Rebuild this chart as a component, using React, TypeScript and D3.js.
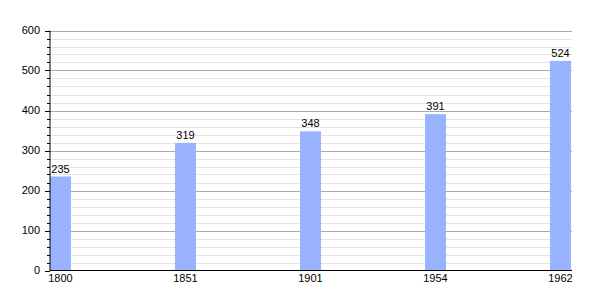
import React from "react";
import * as d3 from "d3";

const years = ["1800", "1851", "1901", "1954", "1962"];
const population = [235, 319, 348, 391, 524];
const majorTicks = [0, 100, 200, 300, 400, 500, 600];

export default function App() {
  const W = 600, H = 300;
  const left = 50, right = 572, top = 30.5, bottom = 270.5;
  const y = d3.scaleLinear().domain([0, 600]).range([bottom, top]);
  const x = d3.scaleBand().domain(years).range([left, left + 125 * years.length]).paddingInner(0).paddingOuter(0);
  const barW = 21;
  const minor = d3.range(0, 601, 20);
  const font = "'Liberation Sans', Arial, sans-serif";
  return (
    <svg width={W} height={H} style={{ position: "absolute", left: 0, top: 0 }} fontFamily={font}>
      <rect width={W} height={H} fill="#fff" />
      {minor.filter((v) => v % 100 !== 0).map((v) => (
        <line key={"g" + v} x1={left} x2={right} y1={Math.round(y(v)) + 0.5} y2={Math.round(y(v)) + 0.5} stroke="#e4e4e4" />
      ))}
      {majorTicks.filter((v) => v !== 0).map((v) => (
        <line key={"M" + v} x1={left} x2={right} y1={Math.round(y(v)) + 0.5} y2={Math.round(y(v)) + 0.5} stroke="#aaaaaa" />
      ))}
      {years.map((yr, i) => (
        <g key={yr}>
          <rect x={x(yr)!} y={y(population[i])} width={barW} height={bottom - y(population[i])} fill="#99b3ff" />
          <text x={x(yr)! + barW / 2} y={y(population[i]) - 4} textAnchor="middle" fontSize={11} fill="#000">
            {population[i]}
          </text>
          <text x={x(yr)! + barW / 2} y={282} textAnchor="middle" fontSize={11} fill="#000">
            {yr}
          </text>
        </g>
      ))}
      <line x1={left} x2={left} y1={top} y2={bottom + 0.5} stroke="#000" />
      <line x1={left} x2={right} y1={bottom} y2={bottom} stroke="#000" />
      {minor.map((v) => (
        <line key={"t" + v} x1={v % 100 === 0 ? 45 : 47} x2={left} y1={Math.round(y(v)) + 0.5} y2={Math.round(y(v)) + 0.5} stroke="#000" />
      ))}
      {majorTicks.map((v) => (
        <text key={"l" + v} x={40} y={y(v)} dy="0.35em" textAnchor="end" fontSize={11} fill="#000">
          {v}
        </text>
      ))}
    </svg>
  );
}
